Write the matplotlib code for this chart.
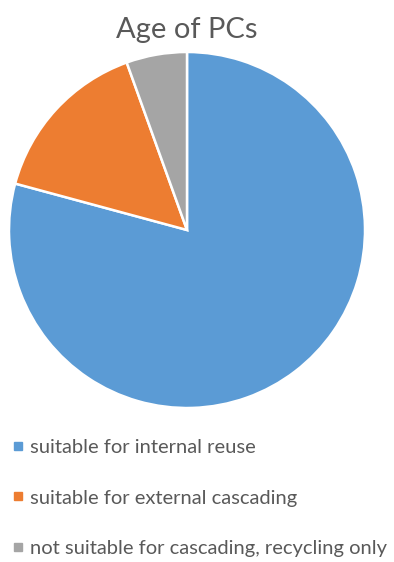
import matplotlib
matplotlib.use("Agg")
import matplotlib.pyplot as plt
from matplotlib.lines import Line2D

title = "Age of PCs"
categories = ["suitable for internal reuse",
              "suitable for external cascading",
              "not suitable for cascading, recycling only"]
values = [79.2, 15.3, 5.5]
colors = ["#5B9BD5", "#ED7D31", "#A5A5A5"]
text_color = "#595959"
font = "Lato"

W, H = 394, 562
fig = plt.figure(figsize=(W / 100, H / 100), dpi=100)
fig.patch.set_facecolor("white")

cx, cy, r = 187, 230, 178
ax = fig.add_axes([(cx - r) / W, 1 - (cy + r) / H, 2 * r / W, 2 * r / H])
ax.pie(values, colors=colors, startangle=90, counterclock=False, radius=1,
       wedgeprops=dict(edgecolor="white", linewidth=1.8))
ax.set_xlim(-1.0, 1.0)
ax.set_ylim(-1.0, 1.0)
ax.set_aspect("equal")
ax.axis("off")

fig.text(cx / W, 1 - 30 / H, title, ha="center", va="center",
         fontsize=21, color=text_color, family=font)

handles = [Line2D([0], [0], marker="s", linestyle="none", markersize=5.5,
                  markerfacecolor=c, markeredgecolor=c) for c in colors]
leg = fig.legend(handles, categories, loc="upper left",
                 bbox_to_anchor=(-4 / W, 1 - 423 / H), frameon=False,
                 handlelength=0.6, handletextpad=0.3, labelspacing=1.65,
                 prop=dict(family=font, size=14.5), borderpad=0.3)
for t in leg.get_texts():
    t.set_color(text_color)

fig.savefig("out.png", dpi=100, facecolor="white")
